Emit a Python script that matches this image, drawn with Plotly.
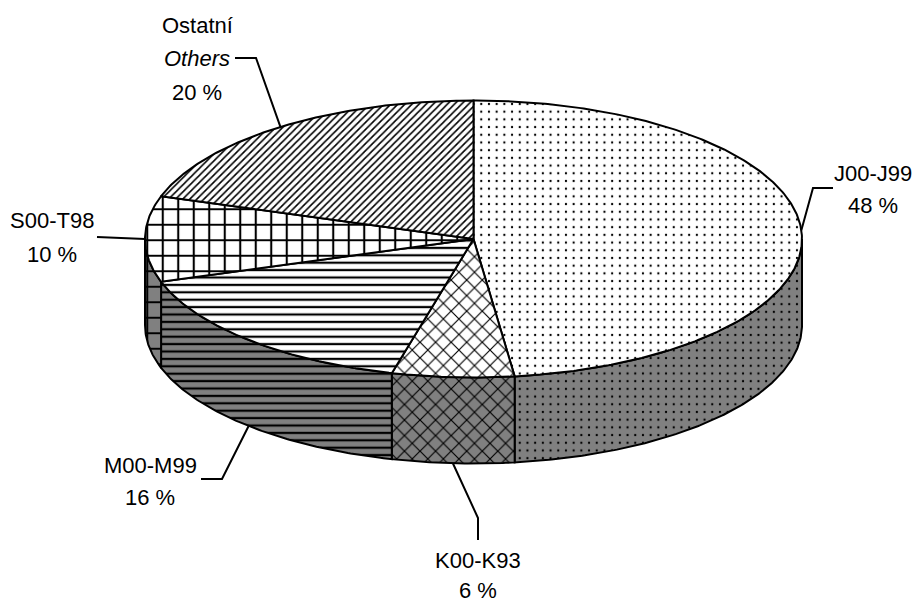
import numpy as np
import plotly.graph_objects as go

# ---- data ----
categories = ["J00-J99", "K00-K93", "M00-M99", "S00-T98", "Ostatní"]
categories_en = ["", "", "", "", "Others"]
values = [48, 6, 16, 10, 20]
value_labels = [f"{v} %" for v in values]

# ---- style / layout ----
W, H = 915, 604
CX, CY, RX, RY, DEPTH = 473.5, 239.0, 328.5, 138.5, 86.0
SIDE_COLOR = "#808080"
patterns = [
    dict(shape=".", size=7.7, solidity=0.07),
    dict(shape="x", size=11, solidity=0.2),
    dict(shape="-", size=7.4, solidity=0.3),
    dict(shape="+", size=15.5, solidity=0.25),
    dict(shape="/", size=5, solidity=0.32),
]
anchor_edge = ["top", "bottom", "bottom", "top", "top"]
# leader elbow + end points and label centre lines (layout positions)
leader_pts = [
    [(813, 188), (833, 188)],
    [(478, 518), (478, 540)],
    [(222, 479), (201, 479)],
    [(97, 237)],
    [(256, 58), (235, 58)],
]
label_pos = [
    [(873, 173), (873, 205)],
    [(478, 560), (478, 590)],
    [(150, 465), (150, 497)],
    [(52, 220), (52, 254)],
    [(197, 25), (197, 58), (197, 92)],
]
FONT = dict(family="Liberation Sans, Arial, sans-serif", size=22, color="black")


def rim(theta_deg, dy=0.0):
    t = np.radians(theta_deg)
    return CX + RX * np.sin(t), CY - RY * np.cos(t) + dy


total = float(sum(values))
bounds = np.concatenate([[0.0], np.cumsum(values) / total * 360.0])

fig = go.Figure()

# side walls (front half, 90..270 degrees clockwise from top)
for i in range(len(values)):
    a, b = max(bounds[i], 90.0), min(bounds[i + 1], 270.0)
    if b <= a:
        continue
    th = np.linspace(a, b, max(8, int((b - a) * 2)))
    xt, yt = rim(th)
    xb, yb = rim(th[::-1], DEPTH)
    xs = np.concatenate([xt, xb, xt[:1]])
    ys = np.concatenate([yt, yb, yt[:1]])
    p = patterns[i]
    fig.add_trace(go.Scatter(
        x=xs, y=ys, mode="lines", fill="toself", fillcolor=SIDE_COLOR,
        line=dict(color="black", width=2),
        fillpattern=dict(shape=p["shape"], size=p["size"], solidity=p["solidity"],
                         fgcolor="black", bgcolor=SIDE_COLOR, fillmode="replace"),
        hoverinfo="skip", showlegend=False))

# top faces
for i in range(len(values)):
    a, b = bounds[i], bounds[i + 1]
    th = np.linspace(a, b, max(8, int((b - a) * 2)))
    xa, ya = rim(th)
    xs = np.concatenate([[CX], xa, [CX]])
    ys = np.concatenate([[CY], ya, [CY]])
    p = patterns[i]
    fig.add_trace(go.Scatter(
        x=xs, y=ys, mode="lines", fill="toself", fillcolor="white",
        line=dict(color="black", width=2),
        fillpattern=dict(shape=p["shape"], size=p["size"], solidity=p["solidity"],
                         fgcolor="black", bgcolor="white", fillmode="replace"),
        hoverinfo="skip", showlegend=False))

# leader lines and labels
annotations = []
for i in range(len(values)):
    mid = (bounds[i] + bounds[i + 1]) / 2.0
    ax, ay = rim(mid, DEPTH if anchor_edge[i] == "bottom" else 0.0)
    lx = [ax] + [p[0] for p in leader_pts[i]]
    ly = [ay] + [p[1] for p in leader_pts[i]]
    fig.add_trace(go.Scatter(x=lx, y=ly, mode="lines",
                             line=dict(color="black", width=2),
                             hoverinfo="skip", showlegend=False))
    lines = [categories[i]]
    if categories_en[i]:
        lines.append(f"<i>{categories_en[i]}</i>")
    lines.append(value_labels[i])
    for txt, (tx, ty) in zip(lines, label_pos[i]):
        annotations.append(dict(x=tx, y=ty, xref="x", yref="y", text=txt,
                                showarrow=False, font=FONT,
                                xanchor="center", yanchor="middle"))

fig.update_layout(
    width=W, height=H, margin=dict(l=0, r=0, t=0, b=0),
    paper_bgcolor="white", plot_bgcolor="white",
    xaxis=dict(range=[0, W], visible=False, fixedrange=True),
    yaxis=dict(range=[H, 0], visible=False, fixedrange=True),
    annotations=annotations, showlegend=False,
)

fig.write_html("out.html", config={"displayModeBar": False},
               post_script="document.body.style.margin='0px';document.body.style.padding='0px';")
